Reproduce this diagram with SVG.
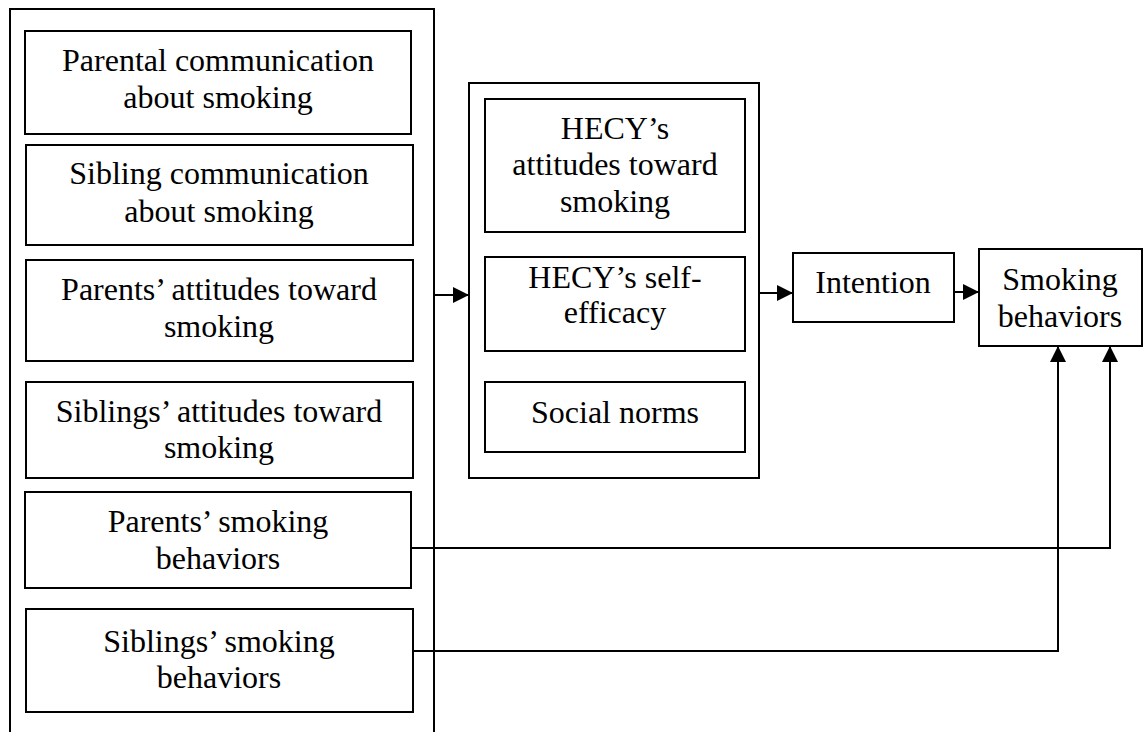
<svg xmlns="http://www.w3.org/2000/svg" width="1143" height="732" viewBox="0 0 1143 732">
<style>
.box{fill:#fff;stroke:#000;stroke-width:2}
.cont{fill:none;stroke:#000;stroke-width:2}
text{font-family:"Liberation Serif","DejaVu Serif",serif;font-size:32px;fill:#000;text-anchor:middle}
.conn{fill:none;stroke:#000;stroke-width:2}
</style>
<defs>
<marker id="arr" markerUnits="userSpaceOnUse" markerWidth="16" markerHeight="16" viewBox="0 0 16 16" refX="16" refY="8" orient="auto">
<path d="M0,0 L16,8 L0,16 Z" fill="#000"/>
</marker>
</defs>
<g id="left-container"><path class="cont" d="M10,733 V9 H434 V733"/></g>
<g id="n1"><rect class="box" x="25" y="31" width="386" height="103"/><text x="218" y="71">Parental communication</text><text x="218" y="108">about smoking</text></g>
<g id="n2"><rect class="box" x="26" y="145" width="387" height="100"/><text x="219" y="184">Sibling communication</text><text x="219" y="222">about smoking</text></g>
<g id="n3"><rect class="box" x="26" y="260" width="387" height="101"/><text x="219" y="300">Parents’ attitudes toward</text><text x="219" y="337">smoking</text></g>
<g id="n4"><rect class="box" x="26" y="382" width="387" height="96"/><text x="219" y="422">Siblings’ attitudes toward</text><text x="219" y="458">smoking</text></g>
<g id="n5"><rect class="box" x="25" y="492" width="386" height="96"/><text x="218" y="532">Parents’ smoking</text><text x="218" y="569">behaviors</text></g>
<g id="n6"><rect class="box" x="26" y="609" width="387" height="103"/><text x="219" y="652">Siblings’ smoking</text><text x="219" y="688">behaviors</text></g>
<g id="mid-container"><rect class="box" x="469" y="83" width="290" height="395"/></g>
<g id="m1"><rect class="box" x="485" y="99" width="260" height="133"/><text x="615" y="139">HECY’s</text><text x="615" y="175">attitudes toward</text><text x="615" y="212">smoking</text></g>
<g id="m2"><rect class="box" x="485" y="257" width="260" height="94"/><text x="615" y="288">HECY’s self-</text><text x="615" y="323">efficacy</text></g>
<g id="m3"><rect class="box" x="485" y="382" width="260" height="70"/><text x="615" y="423">Social norms</text></g>
<g id="intention"><rect class="box" x="793" y="253" width="161" height="69"/><text x="873" y="293">Intention</text></g>
<g id="smoking"><rect class="box" x="979" y="249" width="163" height="97"/><text x="1060" y="290">Smoking</text><text x="1060" y="327">behaviors</text></g>
<g id="connectors">
<path class="conn" d="M434,295 H469" marker-end="url(#arr)"/>
<path class="conn" d="M759,293 H793" marker-end="url(#arr)"/>
<path class="conn" d="M954,292 H979" marker-end="url(#arr)"/>
<path class="conn" d="M411,548 H1110 V346" marker-end="url(#arr)"/>
<path class="conn" d="M413,651 H1058 V346" marker-end="url(#arr)"/>
</g>
</svg>
